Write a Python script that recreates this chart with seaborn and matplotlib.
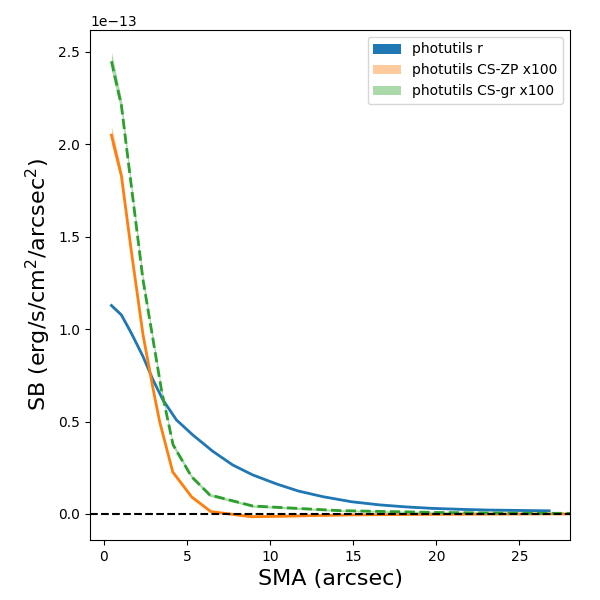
import numpy as np
import pandas as pd
import matplotlib
matplotlib.use("Agg")
import matplotlib.pyplot as plt
import seaborn as sns

# values in units of 1e-13 erg/s/cm^2/arcsec^2
sma_r = [0.45, 1.05, 1.65, 2.35, 2.95, 3.55, 4.36, 5.34, 6.55, 7.75, 8.96, 10.4,
         11.7, 13.2, 14.9, 16.6, 18.2, 19.8, 21.5, 23.2, 25.0, 26.8]
sb_r = [1.128, 1.077, 0.978, 0.852, 0.726, 0.617, 0.509, 0.428, 0.339, 0.265, 0.211,
        0.162, 0.124, 0.093, 0.066, 0.049, 0.038, 0.030, 0.025, 0.021, 0.019, 0.017]
err_r = [0.008, 0.007, 0.006, 0.005, 0.005, 0.004, 0.004, 0.003, 0.003, 0.003, 0.002,
         0.002, 0.002, 0.002, 0.002, 0.002, 0.002, 0.002, 0.002, 0.002, 0.002, 0.002]

sma_zp = [0.45, 1.05, 1.65, 2.35, 2.95, 3.35, 4.14, 5.28, 6.43, 8.88, 11.0, 13.0,
          15.0, 18.0, 22.0, 26.0, 29.0]
sb_zp = [2.05, 1.83, 1.42, 0.97, 0.68, 0.50, 0.227, 0.092, 0.013, -0.015, -0.012,
         -0.008, -0.005, -0.003, -0.001, 0.0, 0.0]
err_zp = [0.05, 0.03, 0.025, 0.02, 0.015, 0.012, 0.01, 0.008, 0.006, 0.005, 0.004,
          0.004, 0.003, 0.003, 0.003, 0.003, 0.003]

sma_gr = [0.45, 1.05, 1.45, 2.35, 2.95, 3.46, 4.16, 5.27, 6.37, 8.96, 14.2, 20.0,
          25.0, 29.0]
sb_gr = [2.45, 2.21, 1.917, 1.267, 0.945, 0.671, 0.374, 0.202, 0.103, 0.043, 0.018,
         0.008, 0.004, 0.003]
err_gr = [0.05, 0.035, 0.03, 0.025, 0.02, 0.016, 0.012, 0.01, 0.008, 0.006, 0.005,
          0.004, 0.004, 0.004]

scale = 1e-13
fig = plt.figure(figsize=(6, 6), dpi=100)
ax = fig.add_axes([0.15, 0.1, 0.8, 0.85])

c_blue, c_orange, c_green = "#1f77b4", "#ff7f0e", "#2ca02c"

def band(x, y, e, color, alpha, label):
    y = np.array(y) * scale
    e = np.array(e) * scale
    ax.fill_between(x, y - e, y + e, color=color, alpha=alpha, label=label, lw=0)

band(sma_r, sb_r, err_r, c_blue, 1.0, "photutils r")
sns.lineplot(x=sma_r, y=np.array(sb_r) * scale, ax=ax, color=c_blue, lw=2, legend=False)
band(sma_zp, sb_zp, err_zp, c_orange, 0.4, "photutils CS-ZP x100")
sns.lineplot(x=sma_zp, y=np.array(sb_zp) * scale, ax=ax, color=c_orange, lw=2, legend=False)
band(sma_gr, sb_gr, err_gr, c_green, 0.4, "photutils CS-gr x100")
sns.lineplot(x=sma_gr, y=np.array(sb_gr) * scale, ax=ax, color=c_green, lw=2,
             linestyle="--", legend=False)

ax.axhline(0, color="k", ls="--", lw=1.5)

ax.set_xlim(-0.84, 28.05)
ax.set_ylim(-0.141e-13, 2.619e-13)
ax.set_xlabel("SMA (arcsec)", fontsize=16)
ax.set_ylabel("SB (erg/s/cm$^2$/arcsec$^2$)", fontsize=16)
ax.legend(loc="upper right")

fig.savefig("out.png", dpi=100)
